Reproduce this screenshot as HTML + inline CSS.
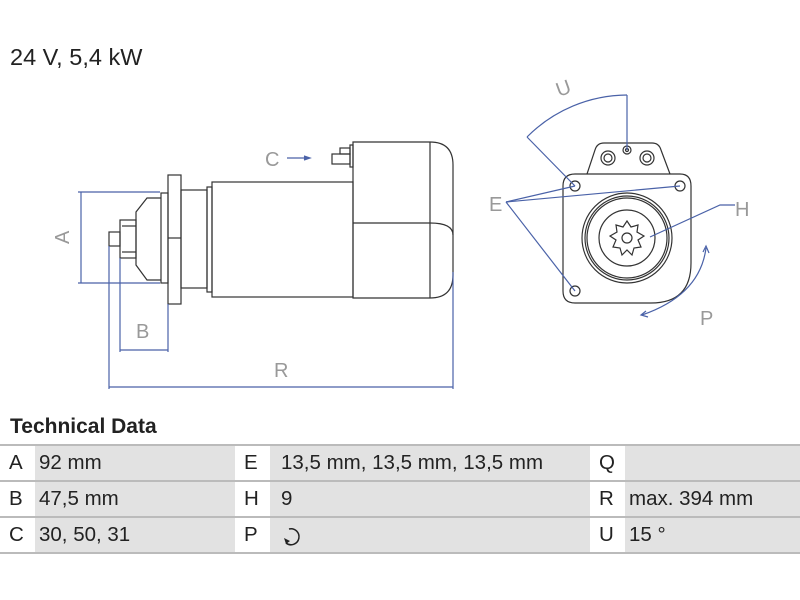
<!DOCTYPE html>
<html><head><style>
body{margin:0;width:800px;height:600px;background:#fff;font-family:"Liberation Sans",sans-serif;position:relative;overflow:hidden}
.t{position:absolute;left:10px;top:44px;font-size:23.5px;color:#222}
.h{position:absolute;left:10px;top:415px;font-size:21px;font-weight:bold;color:#222}
table{position:absolute;left:0;top:444px;width:800px;border-collapse:collapse;font-size:20.5px;color:#222;table-layout:fixed}
td{height:34px;border-top:2px solid #bbb;border-bottom:2px solid #bbb;padding:0 0 0 4px;white-space:nowrap;overflow:hidden}
td.l{background:#fff;padding-left:9px}
td.v{background:#e2e2e2}
td.m{padding-left:11px}
</style></head><body>
<div class="t">24 V, 5,4 kW</div>
<svg width="800" height="410" style="position:absolute;left:0;top:0" fill="none" stroke-width="1.2">
<g stroke="#333">
<rect x="212" y="182" width="141" height="115"/>
<path d="M353 142 H430 Q453 142 453 165 V275 Q453 298 430 298 H353 Z"/>
<line x1="430" y1="142" x2="430" y2="298"/><path d="M353 223 H430 Q453 223 453 235"/>
<rect x="207" y="187" width="5" height="105"/>
<rect x="181" y="190" width="26" height="98"/>
<rect x="168" y="175" width="13" height="129"/><line x1="168" y1="238" x2="181" y2="238"/>
<rect x="161" y="193" width="7" height="90"/>
<path d="M161 198 H147 L136 212 V265 L147 280 H161"/>
<rect x="120" y="220" width="16" height="38"/>
<line x1="122" y1="226" x2="136" y2="226"/><line x1="122" y1="252" x2="136" y2="252"/>
<rect x="109" y="232" width="11" height="14"/>
<rect x="332" y="154" width="18" height="10"/><rect x="340" y="148" width="10" height="6"/><rect x="350" y="145" width="3" height="22"/>
</g>
<g stroke="#4a62a8">
<line x1="81" y1="192" x2="81" y2="283"/><line x1="78" y1="192" x2="160" y2="192"/><line x1="78" y1="283" x2="160" y2="283"/>
<line x1="120" y1="258" x2="120" y2="352"/><line x1="168" y1="304" x2="168" y2="352"/><line x1="120" y1="350" x2="168" y2="350"/>
<line x1="109" y1="246" x2="109" y2="389"/><line x1="453" y1="272" x2="453" y2="389"/><line x1="109" y1="387" x2="453" y2="387"/>
<line x1="287" y1="158" x2="308" y2="158"/><path d="M304 156 L310 158 L304 160" fill="#4a62a8"/>
</g>
<g fill="#999" font-size="20" font-family="Liberation Sans">
<text x="55" y="244" transform="rotate(-90 62 237)">A</text>
<text x="136" y="338">B</text><text x="274" y="377">R</text><text x="265" y="166">C</text>
<text x="489" y="211">E</text><text x="735" y="216">H</text><text x="700" y="325">P</text>
<text x="556" y="95" transform="rotate(-20 563 88)">U</text>
</g>
<g stroke="#333">
<path d="M563 186 Q563 174 575 174 H680 Q691 174 691 186 V263 Q691 303 651 303 H575 Q563 303 563 291 Z"/>
<path d="M587 174 L595 150 Q597 143 604 143 H652 Q659 143 661 150 L670 174"/>
<circle cx="608" cy="158" r="7"/><circle cx="608" cy="158" r="4"/>
<circle cx="647" cy="158" r="7"/><circle cx="647" cy="158" r="4"/>
<circle cx="627" cy="150" r="4"/><circle cx="627" cy="150" r="1.5"/>
<circle cx="575" cy="186" r="5"/><circle cx="680" cy="186" r="5"/><circle cx="575" cy="291" r="5"/>
<circle cx="627" cy="238" r="45"/><circle cx="627" cy="238" r="42"/><circle cx="627" cy="238" r="40"/><circle cx="627" cy="238" r="28"/>
<polygon points="627,221 631,227 638,225 637,232 644,236 638,240 641,247 634,248 632,255 627,250 622,255 620,248 613,247 616,240 610,236 617,232 616,225 623,227"/>
<circle cx="627" cy="238" r="5"/>
</g>
<g stroke="#4a62a8">
<path d="M527 137 A142 142 0 0 1 627 95"/><line x1="627" y1="95" x2="627" y2="150"/><line x1="527" y1="137" x2="575" y2="186"/>
<line x1="506" y1="202" x2="575" y2="186"/><line x1="506" y1="202" x2="680" y2="186"/><line x1="506" y1="202" x2="575" y2="291"/>
<path d="M735 205 H720 L650 237"/>
<path d="M706 248 Q700 295 642 315"/>
<path d="M703 252 L706 246 L709 253" /><path d="M646 311 L641 315 L648 317"/>
</g>
</svg>
<div class="h">Technical Data</div>
<table>
<colgroup><col style="width:35px"><col style="width:200px"><col style="width:35px"><col style="width:320px"><col style="width:35px"><col style="width:175px"></colgroup>
<tr><td class="l">A</td><td class="v">92 mm</td><td class="l">E</td><td class="v m">13,5 mm, 13,5 mm, 13,5 mm</td><td class="l">Q</td><td class="v"></td></tr>
<tr><td class="l">B</td><td class="v">47,5 mm</td><td class="l">H</td><td class="v m">9</td><td class="l">R</td><td class="v">max. 394 mm</td></tr>
<tr><td class="l">C</td><td class="v">30, 50, 31</td><td class="l">P</td><td class="v m"><svg width="20" height="22" style="vertical-align:middle"><path d="M8 4 A8 8 0 1 1 5 18" fill="none" stroke="#222" stroke-width="1.5"/><path d="M3 13 L5 19 L9 16 Z" fill="#222"/></svg></td><td class="l">U</td><td class="v">15 °</td></tr>
</table>
</body></html>
